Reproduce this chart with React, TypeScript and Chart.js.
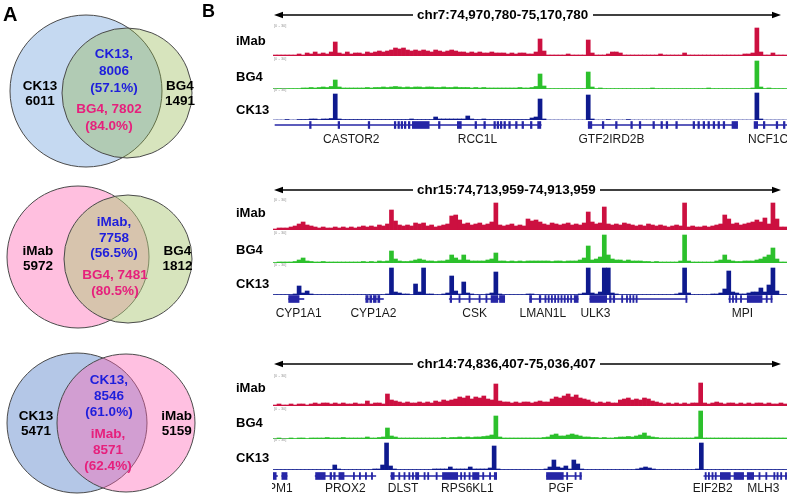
import React, { useEffect, useRef } from "react";
import { Chart, registerables } from "chart.js";

Chart.register(...registerables);

const FONT = '"Liberation Sans", Arial, Helvetica, sans-serif';

// ---------- Venn counts ----------
const vennLeftName = ["CK13", "iMab", "CK13"];
const vennRightName = ["BG4", "BG4", "iMab"];
const vennLeftOnly = [6011, 5972, 5471];
const vennRightOnly = [1491, 1812, 5159];
const vennSharedLeft = [8006, 7758, 8546];
const vennSharedLeftPct = ["57.1%", "56.5%", "61.0%"];
const vennSharedRight = [7802, 7481, 8571];
const vennSharedRightPct = ["84.0%", "80.5%", "62.4%"];

// ---------- browser tracks ----------
const trackNames = ["iMab", "BG4", "CK13"];
const regions = [
  "chr7:74,970,780-75,170,780",
  "chr15:74,713,959-74,913,959",
  "chr14:74,836,407-75,036,407",
];
const trackRange = 30;

// chr7 window, 128 bins
const p1Imab = [
  1, 1, 1, 1, 1, 1, 2, 1, 3, 2, 4, 2, 3, 2, 4, 14, 3, 2, 4, 2, 3, 3, 2, 4, 3,
  4, 5, 4, 5, 6, 8, 7, 8, 6, 5, 6, 5, 6, 5, 4, 6, 5, 4, 5, 6, 5, 4, 4, 3, 4, 3,
  4, 3, 3, 4, 3, 3, 3, 2, 3, 2, 3, 3, 2, 2, 4, 17, 5, 1, 1, 1, 1, 1, 2, 1, 1, 1,
  1, 16, 3, 1, 1, 1, 2, 4, 4, 3, 1, 1, 1, 1, 1, 1, 1, 1, 1, 2, 1, 1, 1, 1, 1, 3,
  1, 1, 1, 1, 1, 1, 1, 1, 1, 1, 1, 1, 1, 1, 2, 2, 3, 28, 4, 1, 1, 3, 1, 1, 1,
];
const p1Bg4 = [
  0.5, 0.5, 0.5, 0.5, 0.5, 0.5, 0.5, 1, 1, 1.5, 1, 1.5, 2, 1.5, 2.5, 9, 2, 1, 1,
  1, 1, 1, 1, 1.5, 1, 1.5, 1.5, 2, 1.5, 2, 2.5, 2, 1.5, 2, 1.5, 2, 2, 1.5, 2, 2,
  1.5, 1.5, 2, 1.5, 1.5, 2, 1.5, 1.5, 1.5, 1, 1.5, 1, 1.5, 1, 1, 1, 1, 1, 1, 1,
  1, 1.5, 1, 1, 1.5, 2.5, 15, 3, 0.5, 0.5, 0.5, 0.5, 0.5, 0.5, 0.5, 0.5, 0.5,
  0.5, 17, 2, 0.5, 1, 0.5, 0.5, 0.5, 0.5, 0.5, 0.5, 0.5, 0.5, 0.5, 0.5, 0.5,
  0.5, 1, 0.5, 0.5, 0.5, 0.5, 0.5, 0.5, 0.5, 0.5, 0.5, 0.5, 0.5, 0.5, 0.5, 1,
  0.5, 0.5, 0.5, 0.5, 0.5, 0.5, 0.5, 0.5, 0.5, 0.5, 1, 28, 2, 0.5, 1, 0.5, 0.5,
  0.5, 0.5,
];
const p1Ck13 = [
  0, 0, 0, 0.5, 0, 0, 0.5, 0.5, 0.5, 1, 1, 0.5, 1, 1, 1.5, 26, 1, 0.5, 0.5, 0.5,
  0.5, 0.5, 0.5, 0.5, 0.5, 0.5, 0.5, 0.5, 0.5, 0.5, 0.5, 0.5, 0.5, 0.5, 1, 0.5,
  0.5, 0.5, 0.5, 0.5, 3, 1, 1, 1, 1, 1, 1, 1, 4, 1, 0.5, 0.5, 1, 0.5, 0.5, 0.5,
  0.5, 0.5, 0.5, 0.5, 0.5, 0.5, 0.5, 0.5, 2, 3, 21, 1, 0, 0, 0, 0, 0, 0, 0, 0, 0,
  0, 25, 1, 0, 0, 0, 0.5, 0, 0, 0, 0, 0.5, 0, 0, 0, 0, 0, 0, 0, 0, 0, 0, 0, 0,
  0, 0, 0, 0, 0, 0, 0, 0, 0, 0, 0, 0, 0, 0, 0, 0, 0, 0, 0, 27, 1, 0, 0, 0, 0, 0,
  0,
];

// chr15 window
const p2Imab = [
  1, 2, 2, 2, 3, 4, 6, 8, 5, 4, 3, 2, 3, 2, 2, 3, 2, 3, 2, 3, 2, 3, 4, 3, 4, 3,
  5, 4, 6, 20, 9, 5, 4, 5, 4, 7, 6, 7, 4, 5, 3, 4, 5, 6, 14, 15, 10, 6, 7, 5, 6,
  7, 5, 6, 8, 27, 5, 4, 5, 6, 4, 5, 4, 11, 9, 10, 8, 6, 5, 7, 6, 5, 6, 7, 5, 6,
  5, 7, 18, 8, 6, 7, 23, 6, 5, 6, 5, 7, 6, 5, 4, 5, 4, 6, 5, 4, 5, 4, 3, 4, 5, 4,
  27, 3, 4, 3, 3, 4, 3, 4, 5, 6, 15, 11, 6, 7, 5, 6, 7, 8, 10, 8, 12, 6, 27, 11,
  3, 3,
];
const p2Bg4 = [
  0.5, 1, 1, 1, 1, 1.5, 3, 5, 2, 1.5, 1, 1, 1.5, 1, 1, 1, 1, 1, 1, 1, 1, 1, 1.5,
  1, 1.5, 1, 2, 1.5, 2, 12, 4, 2, 1.5, 1.5, 2, 3, 4, 3, 2, 2, 1.5, 2, 2, 3, 8, 5,
  3, 8, 3, 2, 2, 2, 2, 3, 4, 10, 2, 2, 1.5, 2, 1.5, 2, 1.5, 2, 2, 2, 2, 2, 2, 1.5,
  2, 2, 1.5, 2, 2, 2, 3, 5, 17, 3, 4, 6, 28, 8, 4, 3, 3, 2, 3, 2, 2, 2, 1.5, 1.5,
  1, 1.5, 1, 1, 1, 1, 1, 2, 28, 2, 1, 1, 1, 1, 1, 1, 2, 3, 8, 3, 2, 1.5, 1.5, 2,
  2, 2, 3, 4, 6, 8, 15, 4, 1, 1,
];
const p2Ck13 = [
  0.5, 0.5, 0.5, 0.5, 0.5, 1, 9, 2, 4, 1, 0.5, 0.5, 0.5, 0.5, 0.5, 0.5, 0.5, 0.5,
  0.5, 0.5, 0.5, 0.5, 0.5, 0.5, 0.5, 0.5, 0.5, 0.5, 1, 27, 3, 2, 1, 1, 0.5, 11,
  3, 27, 1, 1, 0.5, 0.5, 1, 2, 19, 4, 1, 13, 2, 1, 0.5, 0.5, 0.5, 1, 2, 23, 1,
  0.5, 0.5, 0.5, 0.5, 0.5, 0.5, 1, 1, 0.5, 0.5, 0.5, 0.5, 0.5, 0.5, 0.5, 0.5,
  0.5, 0.5, 0.5, 1, 2, 27, 2, 1, 3, 27, 27, 2, 1, 0.5, 0.5, 0.5, 0.5, 0.5, 0.5,
  0.5, 0.5, 0.5, 0.5, 0.5, 0.5, 0.5, 0.5, 1, 2, 27, 2, 0.5, 0.5, 0.5, 0.5, 0.5,
  1, 1, 2, 6, 24, 3, 2, 1, 1, 2, 3, 3, 7, 3, 10, 27, 4, 0.5, 0.5,
];

// chr14 window
const p3Imab = [
  1, 2, 1, 1, 2, 1, 2, 2, 1, 2, 3, 2, 3, 3, 2, 3, 2, 3, 2, 2, 3, 2, 2, 5, 2, 3,
  3, 2, 12, 6, 5, 4, 3, 4, 3, 3, 4, 3, 4, 3, 5, 4, 6, 5, 6, 7, 9, 8, 10, 7, 9, 8,
  10, 7, 6, 22, 5, 4, 4, 3, 4, 3, 4, 4, 3, 4, 5, 4, 4, 7, 9, 8, 10, 12, 9, 11, 8,
  7, 6, 4, 3, 4, 3, 4, 3, 3, 6, 7, 8, 6, 7, 6, 8, 7, 5, 4, 3, 2, 3, 2, 3, 2, 3, 2,
  3, 3, 23, 3, 2, 3, 4, 3, 2, 3, 3, 2, 3, 2, 3, 2, 3, 3, 2, 3, 2, 2, 3, 2,
];
const p3Bg4 = [
  0.5, 1, 0.5, 0.5, 1, 0.5, 1, 1, 0.5, 1, 1, 1, 1, 1.5, 1, 1, 1, 1.5, 1, 1, 1, 1,
  1, 2, 1, 1, 1.5, 2, 11, 3, 2, 1, 1, 1, 1, 1, 1, 1, 1, 1, 1, 1, 1.5, 1, 1.5, 1.5,
  2, 1.5, 2, 1.5, 2, 2, 2.5, 3, 4, 23, 2, 1, 1, 1, 1, 1, 1, 1, 1, 1, 1, 1.5, 2, 4,
  5, 3, 3, 4, 5, 4, 3, 2, 2, 1.5, 1.5, 1, 1.5, 1, 1, 1.5, 2, 2, 2.5, 2, 3, 4, 6,
  3, 2, 1.5, 1, 1, 1, 1, 1, 1, 1, 1, 1, 2, 28, 1, 1, 1, 1, 1, 1, 1, 1, 1, 1, 1,
  1, 1, 1, 1, 1, 1, 1, 1, 1, 1,
];
const p3Ck13 = [
  0.5, 0.5, 0.5, 0.5, 0.5, 0.5, 0.5, 0.5, 0.5, 0.5, 0.5, 0.5, 0.5, 0.5, 0.5, 5,
  1, 0.5, 0.5, 0.5, 0.5, 0.5, 0.5, 0.5, 0.5, 1, 1, 5, 27, 4, 1, 0.5, 0.5, 0.5,
  0.5, 0.5, 0.5, 0.5, 0.5, 0.5, 1, 1, 1, 1, 3, 1, 1, 1, 1, 3, 1, 1, 1, 1, 2, 24,
  1, 0.5, 0.5, 0.5, 0.5, 0.5, 0.5, 0.5, 0.5, 0.5, 0.5, 0.5, 1, 3, 10, 3, 2, 4, 1,
  10, 6, 1, 0.5, 0.5, 0.5, 0.5, 0.5, 0.5, 0.5, 0.5, 0.5, 0.5, 0.5, 0.5, 0.5, 1,
  2, 3, 2, 1, 0.5, 0.5, 0.5, 0.5, 0.5, 0.5, 0.5, 0.5, 0.5, 0.5, 1, 27, 0.5, 0.5,
  0.5, 0.5, 0.5, 0.5, 0.5, 0.5, 0.5, 0.5, 0.5, 0.5, 0.5, 0.5, 0.5, 0.5, 0.5, 0.5,
  0.5, 0.5, 0.5,
];

// gene models, in bin units along each window
const p1Introns = [[0, 66.3], [78, 115.2], [119.4, 127.5]];
const p1Exons = [
  [8.6, 9], [15.7, 16.1], [23.2, 23.6], [29.7, 30.1], [30.6, 31], [31.4, 31.8],
  [32.2, 32.6], [33.2, 33.6], [34.2, 38.4], [40.7, 41.1], [45.4, 46.4],
  [49.8, 50.2], [52, 52.4], [54.5, 54.9], [55.3, 55.7], [56.1, 56.5], [57, 57.4],
  [58.2, 58.6], [59.9, 60.3], [61.5, 61.9], [63.6, 64], [65.4, 66.2], [78, 78.9],
  [81.5, 81.9], [84.8, 85.2], [88.6, 89], [90.7, 91.1], [94.1, 94.5],
  [96.1, 96.5], [97.4, 97.8], [99.8, 100.2], [104.1, 104.5], [105.3, 105.7],
  [106.6, 107], [107.8, 108.2], [109.1, 109.5], [110.3, 110.7], [111.6, 112],
  [113.8, 115.2], [119.3, 120.2], [121.6, 122], [124.8, 125.2], [126.6, 127],
];
const p1GeneNames = ["CASTOR2", "RCC1L", "GTF2IRD2B", "NCF1C"];
const p1GeneAt = [19, 50.4, 83.8, 122.8];

const p2Introns = [[3.4, 7.2], [22.6, 27], [43.4, 57.2], [63.4, 75.5], [78.4, 102.6], [113, 123.8]];
const p2Exons = [
  [3.4, 6], [22.6, 23.2], [23.6, 24.1], [24.5, 25.2], [25.6, 26.1], [43.6, 44],
  [45.8, 46.1], [48.3, 48.6], [50.8, 51.1], [52.5, 52.8], [53.8, 55.5],
  [55.9, 57.2], [63.4, 63.9], [65.8, 66.2], [67.2, 67.5], [68, 68.3],
  [68.8, 69.1], [69.6, 69.9], [70.4, 70.7], [71.2, 71.5], [72, 72.3],
  [72.8, 73.1], [73.6, 73.9], [74.5, 75.5], [78.4, 82.6], [83.3, 83.7],
  [84.2, 84.6], [86.3, 86.6], [87.5, 87.8], [88.3, 88.6], [89.1, 89.4],
  [89.9, 90.2], [102.3, 102.6], [113.1, 113.4], [113.9, 114.2], [114.7, 115],
  [115.9, 116.2], [117.6, 121.3], [122.3, 122.6], [123.5, 123.8],
];
const p2GeneNames = ["CYP1A1", "CYP1A2", "CSK", "LMAN1L", "ULK3", "MPI"];
const p2GeneAt = [5.9, 24.5, 49.7, 66.7, 79.8, 116.4];

const p3Introns = [[-0.5, 0.6], [1.7, 3], [10, 25.1], [28.8, 55.2], [67.6, 76.3], [106.8, 127.5]];
const p3Exons = [
  [-0.5, 0.3], [1.7, 3], [10.1, 12.5], [13.7, 14.1], [14.6, 15], [15.9, 17.2],
  [19.5, 19.8], [21, 21.3], [22.5, 22.8], [24, 24.3], [28.9, 29.7], [30.8, 31.1],
  [32.1, 32.4], [33.3, 33.6], [34.2, 34.5], [35, 35.8], [37.1, 37.4], [38, 38.3],
  [40.1, 40.4], [41.7, 45.5], [46.2, 46.5], [47.1, 47.4], [48.3, 48.6],
  [49.2, 50.8], [51.7, 52], [53.4, 53.7], [54.6, 55.2], [67.6, 71.8],
  [72.6, 72.9], [74.7, 75], [75.9, 76.3], [107.1, 107.4], [107.9, 108.2],
  [108.8, 109.1], [109.6, 109.9], [110.9, 113.4], [114.3, 116.7], [117.6, 119.2],
  [120.5, 120.8], [122.2, 122.5], [124.2, 124.5], [125, 125.3], [125.9, 126.2],
  [127.1, 127.4],
];
const p3GeneNames = ["PM1", "PROX2", "DLST", "RPS6KL1", "PGF", "EIF2B2", "MLH3"];
const p3GeneAt = [1.3, 17.5, 31.9, 47.9, 71.2, 109, 121.6];

const panelSignals = [
  [p1Imab, p1Bg4, p1Ck13],
  [p2Imab, p2Bg4, p2Ck13],
  [p3Imab, p3Bg4, p3Ck13],
];
const panelIntrons = [p1Introns, p2Introns, p3Introns];
const panelExons = [p1Exons, p2Exons, p3Exons];
const panelGeneNames = [p1GeneNames, p2GeneNames, p3GeneNames];
const panelGeneAt = [p1GeneAt, p2GeneAt, p3GeneAt];

// ---------- styling / layout ----------
const TRACK_COLORS = ["#cc1040", "#2cc02c", "#0e1a8e"];
const GENE_COLOR = "#2626a6";
const BLUE_TXT = "#1e1edc";
const PINK_TXT = "#e6207c";

const TRACK_X = 273;
const TRACK_W = 514;
const TRACK_H = 30;
const BINS = 128;

const arrowY = [15, 190, 364];
const baselines = [
  [55, 88, 119],
  [229, 262, 294],
  [405, 438, 469],
];
const labelY = [
  [40.5, 76.5, 110],
  [213, 250, 284],
  [388, 423, 457.5],
];
const geneY = [125, 299, 476];
const geneLabelY = [139.5, 313, 488];
const titleRightStart = [593, 600, 600];

// Venn geometry (px)
const vennBase = [
  { x: 86, y: 91, r: 76 },
  { x: 78, y: 257, r: 71 },
  { x: 77, y: 423, r: 70 },
];
const vennTop = [
  { x: 127, y: 93, r: 65 },
  { x: 128, y: 259, r: 64 },
  { x: 126, y: 423, r: 69 },
];
const vennBaseColor = ["rgb(197,217,241)", "rgb(255,191,223)", "rgb(180,199,231)"];
const vennTopColor = ["rgba(141,178,66,0.35)", "rgba(175,201,123,0.5)", "rgba(255,98,180,0.4)"];

const baseOptions: any = {
  animation: false,
  responsive: false,
  events: [],
  layout: { padding: 0, autoPadding: false },
  plugins: { legend: { display: false }, tooltip: { enabled: false }, title: { display: false } },
};

function ChartCanvas({ x, y, w, h, make }: { x: number; y: number; w: number; h: number; make: () => any }) {
  const ref = useRef<HTMLCanvasElement>(null);
  useEffect(() => {
    const chart = new Chart(ref.current as HTMLCanvasElement, make());
    return () => chart.destroy();
  }, []);
  return (
    <canvas
      ref={ref}
      width={w}
      height={h}
      style={{ position: "absolute", left: x, top: y, width: w, height: h, display: "block" }}
    />
  );
}

function signalConfig(values: number[], color: string) {
  return {
    type: "bar",
    data: {
      labels: values.map((_, i) => i),
      datasets: [
        {
          data: values,
          backgroundColor: color,
          borderWidth: 0,
          barPercentage: 1,
          categoryPercentage: 1,
        },
      ],
    },
    options: {
      ...baseOptions,
      scales: {
        x: { display: false },
        y: { display: false, min: 0, max: trackRange },
      },
    },
  };
}

function geneConfig(introns: number[][], exons: number[][]) {
  const lines = introns.map((seg) => ({
    data: [seg],
    backgroundColor: GENE_COLOR,
    barThickness: 1,
    grouped: false,
  }));
  const boxes = exons.map((seg) => ({
    data: [seg],
    backgroundColor: GENE_COLOR,
    barThickness: 7,
    grouped: false,
  }));
  return {
    type: "bar",
    data: { labels: ["gene"], datasets: [...boxes, ...lines] },
    options: {
      ...baseOptions,
      indexAxis: "y",
      scales: {
        x: { display: false, type: "linear", min: -0.5, max: BINS - 0.5 },
        y: { display: false },
      },
    },
  };
}

function vennConfig() {
  return {
    type: "bubble",
    data: {
      datasets: [
        {
          data: vennTop,
          backgroundColor: vennTopColor,
          borderColor: "#4a4a4a",
          borderWidth: 1,
          clip: false,
        },
        {
          data: vennBase,
          backgroundColor: vennBaseColor,
          borderColor: "#4a4a4a",
          borderWidth: 1,
          clip: false,
        },
      ],
    },
    options: {
      ...baseOptions,
      scales: {
        x: { display: false, min: 0, max: 200 },
        y: { display: false, min: 0, max: 495, reverse: true },
      },
    },
  };
}

// y is the centre of the first text line
function Txt({
  x, y, children, size = 13, bold = true, color = "#000", align = "center", lh,
}: any) {
  const lineH = lh ?? size * 1.2;
  const style: any = {
    position: "absolute",
    top: y - lineH / 2,
    left: x,
    fontFamily: FONT,
    fontSize: size,
    fontWeight: bold ? 700 : 400,
    color,
    lineHeight: `${lineH}px`,
    whiteSpace: "pre",
  };
  if (align === "center") {
    style.transform = "translateX(-50%)";
    style.textAlign = "center";
  }
  return <div style={style}>{children}</div>;
}

// text placement for each Venn
const vennText = [
  { lx: 40, rx: 180, sy: 85.5, slh: 15.5, by: 53.3, bx: 114, py: 108.3, px: 109, lh: 17.2, split: false },
  { lx: 38, rx: 177.5, sy: 250.5, slh: 15, by: 222, bx: 114, py: 275, px: 115, lh: 15.5, split: false },
  { lx: 36, rx: 176.7, sy: 415.7, slh: 15.5, by: 380, bx: 109, py: 434.3, px: 108, lh: 15.8, split: true },
];

function VennLabels() {
  return (
    <>
      {vennText.map((t, i) => {
        const pink = t.split
          ? `${vennRightName[i]},\n${vennSharedRight[i]}\n(${vennSharedRightPct[i]})`
          : `${vennRightName[i]}, ${vennSharedRight[i]}\n(${vennSharedRightPct[i]})`;
        return (
          <React.Fragment key={i}>
            <Txt x={t.lx} y={t.sy} size={13.5} lh={t.slh}>
              {`${vennLeftName[i]}\n${vennLeftOnly[i]}`}
            </Txt>
            <Txt x={t.rx} y={t.sy} size={13.5} lh={t.slh}>
              {`${vennRightName[i]}\n${vennRightOnly[i]}`}
            </Txt>
            <Txt x={t.bx} y={t.by} size={13.5} lh={t.lh} color={BLUE_TXT}>
              {`${vennLeftName[i]},\n${vennSharedLeft[i]}\n(${vennSharedLeftPct[i]})`}
            </Txt>
            <Txt x={t.px} y={t.py} size={13.5} lh={t.lh} color={PINK_TXT}>
              {pink}
            </Txt>
          </React.Fragment>
        );
      })}
    </>
  );
}

const binToX = (b: number) => ((b + 0.5) / BINS) * TRACK_W;

function BrowserPanel({ p }: { p: number }) {
  const ay = arrowY[p];
  return (
    <>
      <svg
        width={787}
        height={495}
        style={{ position: "absolute", left: 0, top: 0, pointerEvents: "none" }}
      >
        <line x1={280} y1={ay} x2={413} y2={ay} stroke="#000" strokeWidth={1.6} />
        <polygon points={`274,${ay} 283,${ay - 3.3} 283,${ay + 3.3}`} fill="#000" />
        <line x1={titleRightStart[p]} y1={ay} x2={774} y2={ay} stroke="#000" strokeWidth={1.6} />
        <polygon points={`781,${ay} 772,${ay - 3.3} 772,${ay + 3.3}`} fill="#000" />
      </svg>
      <Txt x={417} y={ay} size={13.4} align="left">
        {regions[p]}
      </Txt>
      {trackNames.map((name, t) => (
        <React.Fragment key={name}>
          <Txt x={236} y={labelY[p][t]} size={13} align="left">
            {name}
          </Txt>
          <div
            style={{
              position: "absolute",
              left: 274,
              top: baselines[p][t] - 31,
              fontFamily: FONT,
              fontSize: 4,
              color: "#999",
              lineHeight: "4px",
            }}
          >
            {`[0 - ${trackRange}]`}
          </div>
          <ChartCanvas
            x={TRACK_X}
            y={baselines[p][t] - TRACK_H + 1}
            w={TRACK_W}
            h={TRACK_H}
            make={() => signalConfig(panelSignals[p][t], TRACK_COLORS[t])}
          />
        </React.Fragment>
      ))}
      <ChartCanvas
        x={TRACK_X}
        y={geneY[p] - 6}
        w={TRACK_W}
        h={12}
        make={() => geneConfig(panelIntrons[p], panelExons[p])}
      />
      <div
        style={{
          position: "absolute",
          left: TRACK_X - 1,
          top: geneLabelY[p] - 9,
          width: TRACK_W + 1,
          height: 18,
          overflow: "hidden",
        }}
      >
        {panelGeneNames[p].map((g, i) => (
          <Txt key={g} x={binToX(panelGeneAt[p][i]) + 1} y={9} size={12} bold={false} color="#1a1a1a">
            {g}
          </Txt>
        ))}
      </div>
    </>
  );
}

export default function App() {
  return (
    <div
      style={{
        position: "absolute",
        left: 0,
        top: 0,
        width: 787,
        height: 495,
        background: "#fff",
        overflow: "hidden",
      }}
    >
      <ChartCanvas x={0} y={0} w={200} h={495} make={vennConfig} />
      <VennLabels />
      <Txt x={3} y={14.3} size={20} align="left">
        A
      </Txt>
      <Txt x={202} y={11.5} size={18} align="left">
        B
      </Txt>
      {[0, 1, 2].map((p) => (
        <BrowserPanel key={p} p={p} />
      ))}
    </div>
  );
}
